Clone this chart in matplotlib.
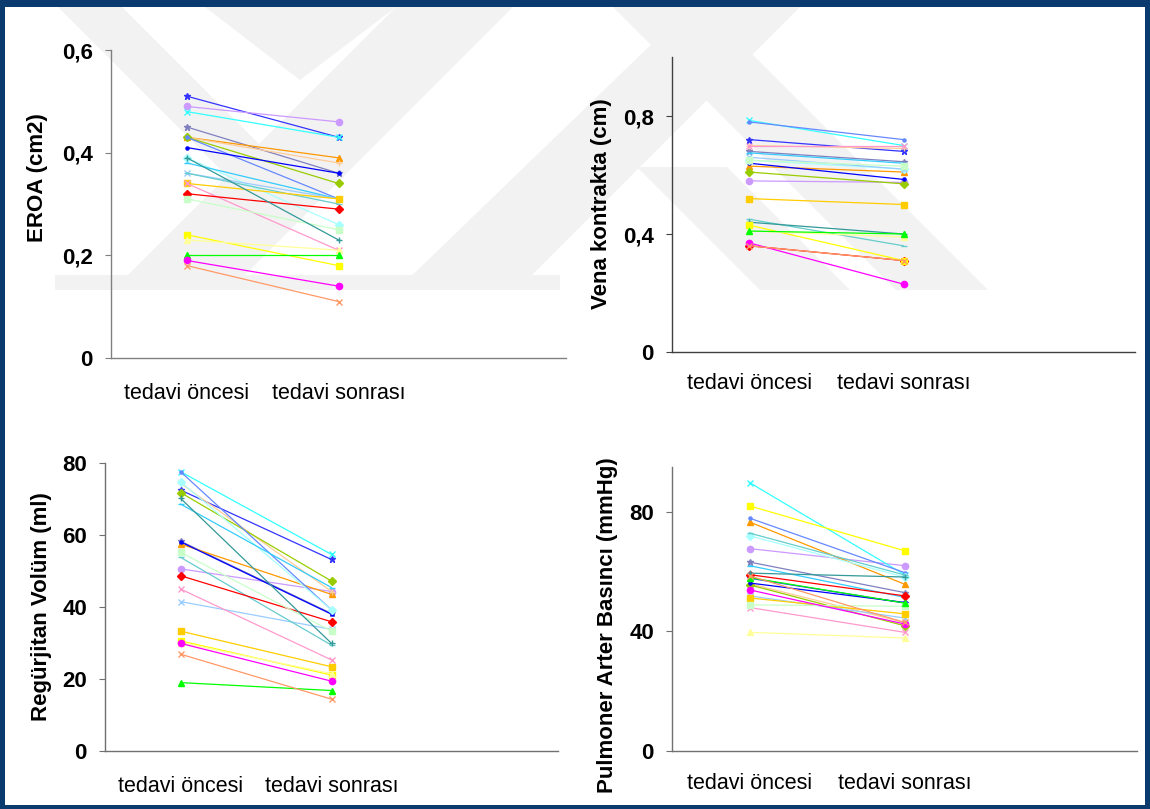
import matplotlib.pyplot as plt
from matplotlib.patches import Polygon, Rectangle

plt.rcParams['font.family'] = ['Liberation Sans', 'DejaVu Sans']

W, H = 1150, 809

categories = ['tedavi öncesi', 'tedavi sonrası']

# one colour / marker per patient, same order in every panel
colors = ['#3333ff', '#cc99ff', '#33ffff', '#8080c0', '#ff9900', '#ffcc99',
          '#99cc00', '#6688ff', '#0000ff', '#a8ffff', '#33ccff', '#99ccff',
          '#66cccc', '#ffcc00', '#ff99cc', '#ff0000', '#c8ffc8', '#339999',
          '#ffff00', '#ffff99', '#00ff00', '#ff00ff', '#ff9966']
markers = ['*', 'o', 'x', '*', '^', '+', 'D', '.', '.', 'D', '_', 'x',
           '_', 's', 'x', 'D', 's', '+', 's', '^', '^', 'o', 'x']

eroa_before = [0.51, 0.49, 0.48, 0.45, 0.43, 0.43, 0.43, 0.43, 0.41, 0.39, 0.38, 0.36,
               0.36, 0.34, 0.34, 0.32, 0.31, 0.39, 0.24, 0.23, 0.20, 0.19, 0.18]
eroa_after = [0.43, 0.46, 0.43, 0.36, 0.39, 0.38, 0.34, 0.31, 0.36, 0.26, 0.31, 0.31,
              0.30, 0.31, 0.21, 0.29, 0.25, 0.23, 0.18, 0.21, 0.20, 0.14, 0.11]

vc_before = [0.72, 0.58, 0.785, 0.68, 0.63, 0.70, 0.61, 0.78, 0.64, 0.65, 0.675, 0.66,
             0.45, 0.52, 0.70, 0.36, 0.65, 0.44, 0.43, 0.41, 0.41, 0.37, 0.36]
vc_after = [0.68, 0.575, 0.70, 0.645, 0.61, 0.69, 0.57, 0.72, 0.585, 0.62, 0.64, 0.62,
            0.36, 0.50, 0.70, 0.31, 0.63, 0.40, 0.31, 0.39, 0.40, 0.23, 0.31]

rv_before = [72.5, 50.6, 77.6, 58.3, 57.5, 74.4, 71.8, 77.6, 58.1, 74.8, 68.6, 41.5,
             53.8, 33.3, 45.0, 48.7, 55.2, 70.2, 30.6, 30.1, 19.0, 29.9, 26.9]
rv_after = [53.2, 44.3, 54.6, 38.2, 43.5, 44.3, 47.2, 39.2, 38.0, 39.2, 45.4, 33.8,
            29.4, 23.4, 25.3, 35.9, 33.3, 29.9, 21.1, 21.5, 16.8, 19.4, 14.4]

pab_before = [57.8, 67.7, 89.8, 63.2, 76.6, 56.0, 55.6, 77.9, 56.2, 72.0, 62.0, 51.9,
              72.9, 51.2, 48.0, 59.0, 48.9, 59.5, 82.0, 39.7, 58.0, 53.9, 58.6]
pab_after = [49.5, 62.0, 59.0, 53.0, 55.8, 43.0, 41.9, 59.7, 49.7, 58.2, 51.4, 44.5,
             58.9, 45.9, 39.7, 51.9, 48.4, 58.2, 67.0, 37.8, 49.5, 42.5, 43.0]

panels = [
    # (before, after, ylabel, ticks, ticklabels, ymax, box px, ylabel px, spine colour, xpad)
    (eroa_before, eroa_after, 'EROA (cm2)', [0, 0.2, 0.4, 0.6], ['0', '0,2', '0,4', '0,6'],
     0.6, (111, 50, 566, 358), (38, 178), '#808080', 18),
    (vc_before, vc_after, 'Vena kontrakta (cm)', [0, 0.4, 0.8], ['0', '0,4', '0,8'],
     1.0, (672, 57, 1135, 352), (601, 204), '#404040', 15),
    (rv_before, rv_after, 'Regürjitan Volüm (ml)', [0, 20, 40, 60, 80], ['0', '20', '40', '60', '80'],
     80, (105, 463, 558, 751), (42, 607), '#707070', 18),
    (pab_before, pab_after, 'Pulmoner Arter Basıncı (mmHg)', [0, 40, 80], ['0', '40', '80'],
     95, (672, 467, 1137, 751), (608, 625), '#707070', 16),
]

fig = plt.figure(figsize=(W / 100, H / 100), dpi=100)
fig.patch.set_facecolor('#0b3a6e')
fig.patches.append(Rectangle((5 / W, 4 / H), (W - 10) / W, (H - 11) / H,
                             transform=fig.transFigure, facecolor='white',
                             edgecolor='none', zorder=-3))


def px(x, y):
    return (x / W, 1 - y / H)


# faint watermark bands behind the charts
bands = [
    [(58, 7), (122, 7), (300, 185), (236, 185)],
    [(205, 7), (396, 7), (300, 80)],
    [(396, 7), (513, 7), (230, 290), (113, 290)],
    [(690, 7), (800, 7), (517, 290), (397, 290)],
    [(55, 275), (560, 275), (560, 290), (55, 290)],
    [(613, 7), (705, 7), (988, 290), (896, 290)],
    [(637, 167), (727, 167), (850, 290), (760, 290)],
]
for b in bands:
    fig.patches.append(Polygon([px(x, y) for x, y in b], closed=True,
                               transform=fig.transFigure, facecolor='#f2f2f2',
                               edgecolor='none', zorder=-2))

for before, after, ylabel, ticks, ticklabels, ymax, box, lab, spc, xpad in panels:
    x0, y0, x1, y1 = box
    ax = fig.add_axes([x0 / W, 1 - y1 / H, (x1 - x0) / W, (y1 - y0) / H])
    ax.set_facecolor('none')
    for i in range(len(before)):
        ax.plot([1, 2], [before[i], after[i]], color=colors[i], marker=markers[i],
                markersize=4.5, markeredgewidth=1, linewidth=0.9, clip_on=False)
    ax.set_xlim(0.5, 3.5)
    ax.set_ylim(0, ymax)
    ax.set_yticks(ticks)
    ax.set_yticklabels(ticklabels, fontsize=16, fontweight='bold')
    ax.set_xticks([1, 2])
    ax.set_xticklabels(categories, fontsize=15.5)
    ax.tick_params(axis='x', length=0, pad=xpad)
    ax.tick_params(axis='y', length=4.5, width=0.8, color=spc, pad=8.5)
    for s in ['top', 'right']:
        ax.spines[s].set_visible(False)
    for s in ['left', 'bottom']:
        ax.spines[s].set_color(spc)
        ax.spines[s].set_linewidth(1)
    fig.text(lab[0] / W, 1 - lab[1] / H, ylabel, rotation=90, ha='center', va='center',
             fontsize=16, fontweight='bold')

fig.savefig('out.png', dpi=100, facecolor=fig.get_facecolor())
